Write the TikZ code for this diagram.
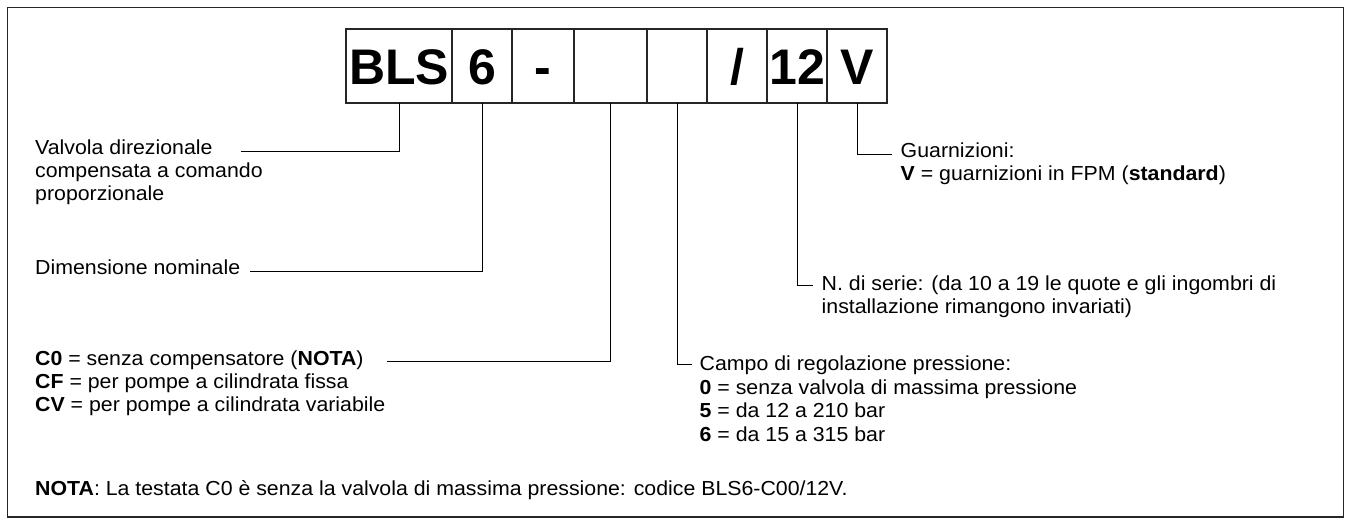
\documentclass[tikz,border=0pt]{standalone}
\usepackage{fontspec}
\setmainfont[FakeStretch=1.05]{Liberation Sans}
\newfontfamily\bigf{Liberation Sans}
\usetikzlibrary{calc}
\begin{document}
\begin{tikzpicture}[x=1pt,y=-1pt,
  codebox/.style={draw=black!85,line width=1.2pt,inner sep=0pt,outer sep=0pt,
    minimum height=74pt,text height=36pt,text depth=0pt,
    font=\bigf\fontsize{50}{50}\selectfont\bfseries},
  lbl/.style={anchor=base west,inner sep=0pt,font=\fontsize{20.3}{23}\selectfont},
  conn/.style={draw=black,line width=0.9pt}]
\useasboundingbox (0,0) rectangle (1348,525);
\draw[line width=1.2pt,black!85] (7.3,7.3) rectangle (1343.3,517);

% code boxes
\node[codebox,minimum width=106pt] (b1) at (399,66) {BLS};
\node[codebox,minimum width=60pt]  (b2) at (482,66) {6};
\node[codebox,minimum width=62pt]  (b3) at (543,66) {-};
\node[codebox,minimum width=73pt]  (b4) at (610.5,66) {};
\node[codebox,minimum width=60pt]  (b5) at (677,66) {};
\node[codebox,minimum width=60pt]  (b6) at (737,66) {/};
\node[codebox,minimum width=60pt]  (b7) at (797,66) {12};
\node[codebox,minimum width=60pt]  (b8) at (857,66) {V};

% labels
\node[lbl] (valv1) at (35,154) {Valvola direzionale};
\node[lbl] (valv2) at (35,177) {compensata a comando};
\node[lbl] (valv3) at (35,200) {proporzionale};
\node[lbl] (dim) at (35,274) {Dimensione nominale};
\node[lbl] (c0) at (35,365) {\textbf{C0} = senza compensatore (\textbf{NOTA})};
\node[lbl] (cf) at (35,388) {\textbf{CF} = per pompe a cilindrata fissa};
\node[lbl] (cv) at (35,411) {\textbf{CV} = per pompe a cilindrata variabile};
\node[lbl] (nota) at (35,495) {\textbf{NOTA}: La testata C0 è senza la valvola di massima pressione: codice BLS6-C00/12V.};
\node[lbl] (campo) at (699.5,370) {Campo di regolazione pressione:};
\node[lbl] (p0) at (699.5,394) {\textbf{0} = senza valvola di massima pressione};
\node[lbl] (p5) at (699.5,417.5) {\textbf{5} = da 12 a 210 bar};
\node[lbl] (p6) at (699.5,441) {\textbf{6} = da 15 a 315 bar};
\node[lbl] (ser1) at (821.5,290) {N. di serie: (da 10 a 19 le quote e gli ingombri di};
\node[lbl] (ser2) at (821.5,313) {installazione rimangono invariati)};
\node[lbl] (gua1) at (900.5,157) {Guarnizioni:};
\node[lbl] (gua2) at (900.5,180) {\textbf{V} = guarnizioni in FPM (\textbf{standard})};

% connectors
\coordinate (k1) at (241,151.7);
\coordinate (k2) at (250,271.7);
\coordinate (k3) at (387,361.5);
\coordinate (k4) at (691.7,364);
\coordinate (k5) at (813,285);
\coordinate (k6) at (891.7,154);
\draw[conn] (b1.south) |- (k1);
\draw[conn] (b2.south) |- (k2);
\draw[conn] (b4.south) |- (k3);
\draw[conn] (b5.south) |- (k4);
\draw[conn] (b7.south) |- (k5);
\draw[conn] (b8.south) |- (k6);
\end{tikzpicture}
\end{document}
